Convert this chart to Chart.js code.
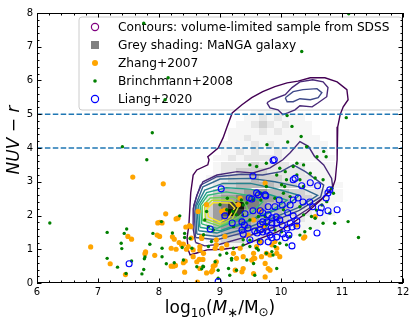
<!DOCTYPE html>
<html><head><meta charset="utf-8">
<script src="https://cdn.jsdelivr.net/npm/chart.js@4/dist/chart.umd.min.js"></script>
<style>html,body{margin:0;padding:0;background:#fff;}#wrap{width:416px;height:325px;position:relative;}</style>
</head><body><div id="wrap"><canvas id="c" width="416" height="325"></canvas></div>
<script>
// ---------- data ----------
const xTicks = [6,7,8,9,10,11,12];
const yTicks = [0,1,2,3,4,5,6,7,8];
const refLines = [4,5];
const legendLabels = ['Contours: volume-limited sample from SDSS','Grey shading: MaNGA galaxy','Zhang+2007','Brinchmann+2008','Liang+2020'];

const zhang = [[7.57,3.14],[8.07,2.94],[8.11,2.05],[7.98,1.78],[8.01,1.80],[8.05,1.78],[8.28,1.90],[8.31,1.92],[8.44,1.66],[8.50,1.70],[7.97,1.42],[8.01,1.38],[8.22,1.37],[8.25,1.30],[8.33,1.20],[8.40,1.15],[8.45,1.00],[8.20,1.03],[8.28,1.00],[7.49,1.38],[7.55,1.30],[6.88,1.07],[7.20,0.57],[7.78,0.92],[7.77,0.87],[7.93,0.82],[7.45,0.25],[8.40,0.60],[8.20,0.50],[8.24,0.50],[8.27,0.52],[8.42,0.32],[8.56,0.98],[8.56,0.78],[8.63,0.03],[8.66,0.70],[8.72,0.70],[8.78,0.30],
[8.37,1.13],[8.43,0.65],[8.62,0.63],[8.73,0.88],[8.67,0.43],[8.86,0.33],[8.92,0.53],[8.94,0.63],[8.94,1.13],[9.03,1.03],[8.70,1.32],[8.48,1.08],
[8.52,1.67],[8.53,1.33],[8.67,1.08],[8.92,1.03],[8.94,1.28],[8.78,2.32],[8.64,2.12],[9.03,2.12],[9.30,2.32],[9.08,1.38],[9.11,1.13],[9.74,2.96],[9.22,0.88],[9.55,0.88],
[8.70,1.37],[8.89,0.50],[8.88,0.38],[9.25,0.38],[9.38,0.43],[9.36,0.33],[9.55,0.28],[9.74,0.18],[9.79,0.43],[9.82,0.38],[9.74,0.58],[9.55,0.73],[9.52,0.68],[9.57,0.73],[9.38,0.78],[9.27,0.73],[9.68,0.78],[9.76,0.88],[9.82,0.83],[9.85,1.13],[9.93,1.03],[9.90,1.23],[9.93,0.88],[9.98,0.78],[9.66,1.23],[9.60,1.08],[10.39,1.37],[10.37,1.33],[10.56,1.97],[10.26,1.72],[9.33,2.51],[9.66,2.16],[9.08,2.16],[9.55,1.87],[9.46,1.42],[9.71,1.67],[8.67,0.98],[9.33,1.03]];

const brinchmann = [[6.21,1.78],[7.15,1.50],[7.47,1.60],[7.43,1.47],[7.38,1.18],[7.39,1.02],[7.15,0.73],[7.32,0.47],[7.55,0.65],[7.75,0.40],[7.77,0.77],[7.76,0.72],[7.72,0.27],[7.46,0.28],[7.85,1.15],[8.05,1.03],[8.05,0.78],[8.12,0.57],[8.22,1.48],[8.25,0.60],[8.04,1.82],[8.34,1.99],[7.90,1.47],[8.42,1.47],[8.42,1.35],[8.38,1.05],[8.62,0.48],[8.70,0.42],[8.72,0.50],[7.80,3.65],[7.75,7.70],[8.15,6.08],[8.10,5.43],[7.89,4.45],[7.40,4.04],[11.11,7.98],[10.34,6.86],[11.07,4.90],[10.10,4.96],[10.18,4.64],[10.33,4.34],[10.11,4.18],[9.77,4.10],[10.42,4.04],[10.70,3.90],[10.59,3.74],[10.74,3.74],
[8.51,1.32],[8.54,1.03],[8.81,1.08],[8.40,0.68],[8.97,0.38],
[9.49,3.50],[9.60,3.45],[9.76,3.55],[9.98,3.40],[10.07,3.30],[10.20,3.45],[10.26,3.20],[10.37,3.50],[10.48,3.25],[10.56,3.11],[10.69,3.06],[10.83,2.81],[10.86,2.66],[10.75,2.41],[10.67,2.31],[10.58,2.16],[10.50,1.97],[10.37,2.02],[10.31,2.26],[10.15,2.56],[10.04,2.66],[9.90,2.51],[10.01,2.91],[9.76,2.86],[9.66,2.66],[9.55,2.46],[9.38,2.31],[9.27,2.02],[9.49,1.87],[9.63,1.97],[9.76,1.72],[9.90,1.57],[10.01,1.52],[10.15,1.37],[10.31,1.42],[10.39,1.52],[10.48,1.62],[10.56,1.92],[10.69,1.77],[10.80,2.07],[11.10,1.82],[11.27,1.35],[10.88,1.77],[9.22,1.03],[9.38,1.13],[9.49,1.08],[9.63,0.98],[9.76,0.88],[9.85,0.93],[9.98,1.18],[9.00,0.83],[9.11,0.88],[9.19,0.68],[9.44,0.68],[9.55,0.58],[9.27,0.38],[9.16,0.23],[8.97,0.14],[8.73,0.48],[8.92,0.63],[9.90,1.08],[10.31,3.06],[10.37,2.86],[10.09,3.06],[9.93,3.20],
[10.26,3.55],[10.06,2.86],[9.67,2.46],[9.44,2.37],[9.35,2.46],[9.12,2.51],[9.21,2.12],[8.75,1.87],[8.81,1.67],[8.89,1.57],[8.73,1.43],[8.86,1.23],[9.38,1.28],[9.60,1.57],[9.74,1.97],[10.04,2.17],[8.78,2.12],[9.11,2.17],[9.00,2.32],[9.22,1.67],
[9.49,1.27],[9.63,1.27],[9.60,1.03],[9.19,0.73],[9.14,0.43],[9.87,0.83],[9.93,0.43],[9.57,0.23],[10.09,1.13]];

const liang = [[9.89,3.65],[9.54,3.17],[10.20,3.06],[10.34,2.88],[10.48,2.97],[10.60,2.88],[9.02,2.79],[10.80,2.76],[10.77,2.67],[10.74,2.52],[9.48,2.52],[9.52,2.49],[9.60,2.67],[9.75,2.58],[10.28,2.52],[10.36,2.40],[10.47,2.40],[10.15,2.31],[10.02,2.31],[9.90,2.26],[9.79,2.26],[10.52,2.26],[10.66,2.23],[10.77,2.14],[10.92,2.17],[10.64,2.08],[9.54,2.14],[9.66,2.14],[9.20,1.78],[9.08,1.99],[9.41,2.05],[9.36,1.81],[9.40,1.72],[9.70,2.08],[9.79,2.02],[9.85,1.93],[9.92,1.96],[9.98,1.87],[9.93,1.78],[9.85,1.78],[9.77,1.81],[9.70,1.81],[9.66,1.75],[10.11,2.08],[10.20,1.99],[10.26,1.84],[10.15,1.78],[10.02,1.72],[10.10,1.63],[10.18,1.66],[9.46,1.63],[9.57,1.54],[9.66,1.57],[9.77,1.54],[9.84,1.63],[8.84,1.60],[9.36,1.57],[9.38,1.45],[10.59,1.48],[10.18,1.10],[7.51,0.57],[8.97,0.04],
[9.61,1.48],[9.70,1.51],[9.82,1.42],[9.93,1.36],[10.07,1.34],[10.13,1.42],[10.03,1.45],[10.26,1.69],[9.49,1.28],[9.66,1.22],[9.79,1.22],[9.85,1.34],
[9.87,3.63],[10.23,3.10],[9.63,2.61],[9.74,2.61],[9.97,2.46],[10.20,2.46]];

// contour levels (outer -> inner)
const contour1 = [[8.48,0.98],[8.46,1.33],[8.49,1.72],[8.52,2.67],[8.56,3.20],[8.62,3.35],[8.80,3.50],[8.82,3.65],[8.80,3.74],[8.97,4.00],[9.05,4.30],[9.11,4.60],[9.20,5.04],[9.36,5.28],[9.52,5.49],[9.70,5.67],[9.90,5.82],[10.10,5.93],[10.28,5.98],[10.48,6.08],[10.72,6.08],[10.92,5.96],[11.08,5.73],[11.10,5.43],[11.02,5.22],[10.97,4.99],[10.93,4.63],[10.92,4.24],[10.92,3.86],[10.92,3.65],[10.89,3.06],[10.85,2.85],[10.69,2.52],[10.42,2.08],[10.15,1.72],[9.93,1.51],[9.60,1.28],[9.33,1.07],[9.05,1.00],[8.79,0.98],[8.62,0.89],[8.51,0.83],[8.48,0.98]];
const contour2 = [[8.60,1.20],[8.56,1.60],[8.56,2.20],[8.62,2.60],[8.72,3.00],[8.95,3.20],[9.28,3.30],[9.54,3.26],[9.82,3.41],[10.03,3.65],[10.15,3.86],[10.31,4.19],[10.45,4.05],[10.55,3.75],[10.70,3.50],[10.83,3.10],[10.85,2.80],[10.70,2.55],[10.45,2.20],[10.15,1.85],[9.80,1.60],[9.40,1.35],[9.00,1.15],[8.75,1.10],[8.60,1.20]];
const contour2b = [[9.77,5.34],[9.85,5.43],[10.07,5.58],[10.18,5.79],[10.31,5.96],[10.52,6.02],[10.69,5.96],[10.77,5.79],[10.75,5.52],[10.61,5.34],[10.51,5.22],[10.31,5.25],[10.23,5.13],[10.11,5.04],[10.03,4.99],[9.95,5.13],[9.82,5.19],[9.77,5.34]];
const contour3 = [[8.60,1.35],[8.57,2.30],[8.68,2.90],[8.95,3.15],[9.35,3.22],[9.70,3.20],[10.00,3.30],[10.20,3.50],[10.40,3.30],[10.70,2.90],[10.65,2.55],[10.30,2.15],[9.90,1.85],[9.40,1.50],[8.95,1.28],[8.60,1.35]];
const contour3b = [[10.07,5.49],[10.20,5.67],[10.36,5.73],[10.59,5.76],[10.67,5.64],[10.61,5.49],[10.48,5.43],[10.31,5.46],[10.20,5.37],[10.10,5.37],[10.07,5.49]];
const contour4 = [[8.62,1.45],[8.60,2.30],[8.72,2.85],[9.00,3.08],[9.50,3.10],[9.90,3.00],[10.30,2.85],[10.60,2.60],[10.30,2.25],[9.90,1.95],[9.40,1.60],[8.95,1.38],[8.62,1.45]];
const contour5 = [[8.65,1.55],[8.62,2.30],[8.75,2.75],[9.05,2.95],[9.50,2.95],[9.90,2.80],[10.30,2.60],[10.10,2.30],[9.70,2.00],[9.30,1.70],[8.95,1.48],[8.65,1.55]];
const contour6 = [[8.67,1.65],[8.65,2.30],[8.78,2.68],[9.10,2.82],[9.50,2.78],[9.85,2.60],[10.10,2.45],[9.80,2.10],[9.40,1.80],[9.00,1.55],[8.67,1.65]];
const contour7 = [[8.70,1.75],[8.68,2.30],[8.80,2.60],[9.10,2.70],[9.45,2.60],[9.70,2.40],[9.50,2.05],[9.20,1.80],[8.95,1.62],[8.70,1.75]];
const contour8 = [[8.72,1.85],[8.71,2.28],[8.84,2.52],[9.20,2.55],[9.40,2.40],[9.45,2.20],[9.30,1.95],[9.00,1.68],[8.72,1.85]];
const contour9 = [[8.76,1.90],[8.75,2.25],[8.87,2.45],[9.20,2.45],[9.30,2.25],[9.20,1.90],[9.00,1.74],[8.76,1.90]];
const contour10 = [[8.81,1.96],[8.79,2.20],[8.89,2.38],[9.16,2.37],[9.24,2.22],[9.15,1.95],[9.00,1.81],[8.81,1.96]];

// grey shading (MaNGA density), rows top->bottom, one digit per column (0 = empty)
const shadeCols = [8.70,8.825,8.95,9.075,9.20,9.325,9.45,9.575,9.70,9.825,9.95,10.075,10.20,10.325,10.45,10.575,10.70,10.825,10.95];
const shadeRowY = [5.1,4.9,4.7,4.5,4.3,4.1,3.9,3.7,3.5,3.3,3.1,2.9,2.7,2.5,2.3,2.1,1.9,1.7,1.5,1.3,1.1];
const shadeRows = [
"0000000111110000000",
"0000001121211100000",
"0000011232121110000",
"0000111121211110000",
"0000112111111111000",
"0001111212111111100",
"0001121211211111100",
"0011212222211111110",
"0012222322221211110",
"0012233332222211110",
"0122333433322221110",
"0123344444333222111",
"0134445554443322211",
"0245566655443332211",
"1356896654443321110",
"1357985543433221110",
"1356665544432211100",
"1245555443321111000",
"0234444332211100000",
"0123332221110000000",
"0011111100000000000"];

// ---------- helpers ----------
const pts = a => a.map(p => ({x:p[0], y:p[1]}));
const contourColors = ['#440154','#482878','#482878','#3e4989','#3e4989','#31688e','#26828e','#1f9e89','#35b779','#6ece58','#b5de2b','#fde725'];
const contourSets = [contour1,contour2,contour2b,contour3,contour3b,contour4,contour5,contour6,contour7,contour8,contour9,contour10];

const datasets = [
  {label:legendLabels[4], data:pts(liang), pointRadius:3, pointBorderWidth:1.1, borderColor:'#0000ff', backgroundColor:'rgba(0,0,0,0)', pointBorderColor:'#0000ff', pointBackgroundColor:'rgba(0,0,0,0)'},
  {label:legendLabels[3], data:pts(brinchmann), pointRadius:1.7, pointBorderWidth:0, backgroundColor:'#008000', pointBackgroundColor:'#008000', borderColor:'#008000'},
  {label:legendLabels[2], data:pts(zhang), pointRadius:2.6, pointBorderWidth:0, backgroundColor:'#ffa500', pointBackgroundColor:'#ffa500', borderColor:'#ffa500'},
];
refLines.forEach(v => datasets.push({label:'ref'+v, data:[{x:xTicks[0],y:v},{x:xTicks[xTicks.length-1],y:v}], showLine:true, pointRadius:0, borderColor:'#1f77b4', borderWidth:1.5, borderDash:[5.5,2.4]}));
contourSets.forEach((c,i) => datasets.push({label:'contour'+i, data:pts(c), showLine:true, pointRadius:0, borderColor:contourColors[i], borderWidth:1.4, tension:0}));

// ---------- plugins ----------
const shadePlugin = {
  id:'shade',
  beforeDatasetsDraw(chart){
    const {ctx, scales:{x,y}, chartArea:a} = chart;
    const dx = shadeCols[1]-shadeCols[0], dy = shadeRowY[0]-shadeRowY[1];
    ctx.save();
    ctx.beginPath(); ctx.rect(a.left,a.top,a.width,a.height); ctx.clip();
    shadeRows.forEach((row,r) => {
      for (let c=0;c<row.length;c++){
        const v = +row[c]; if(!v) continue;
        const al = Math.pow(v/9,1.5)*0.92;
        const l = x.getPixelForValue(shadeCols[c]-dx/2), rr = x.getPixelForValue(shadeCols[c]+dx/2);
        const t = y.getPixelForValue(shadeRowY[r]+dy/2), b = y.getPixelForValue(shadeRowY[r]-dy/2);
        ctx.fillStyle = 'rgba(0,0,0,'+al.toFixed(3)+')';
        ctx.fillRect(Math.round(l),Math.round(t),Math.round(rr)-Math.round(l),Math.round(b)-Math.round(t));
      }
    });
    // legend frame + entries
    const L = a.left+42, T = a.top+4, R = a.right-1, B = a.top+97, rad = 3;
    ctx.beginPath();
    ctx.moveTo(L+rad,T); ctx.lineTo(R-rad,T); ctx.arcTo(R,T,R,T+rad,rad); ctx.lineTo(R,B-rad); ctx.arcTo(R,B,R-rad,B,rad);
    ctx.lineTo(L+rad,B); ctx.arcTo(L,B,L,B-rad,rad); ctx.lineTo(L,T+rad); ctx.arcTo(L,T,L+rad,T,rad); ctx.closePath();
    ctx.fillStyle='rgba(255,255,255,0.8)'; ctx.fill();
    ctx.strokeStyle='#cccccc'; ctx.lineWidth=1; ctx.stroke();
    ctx.font = '12.2px "DejaVu Sans"'; ctx.textBaseline='middle'; ctx.textAlign='left';
    const mx = L+16, tx = L+39;
    legendLabels.forEach((lab,i) => {
      const yy = T+10+i*18;
      ctx.fillStyle='#000'; ctx.fillText(lab, tx, yy+0.5);
      ctx.beginPath();
      if(i===0){ ctx.arc(mx,yy,3.6,0,Math.PI*2); ctx.strokeStyle='#800080'; ctx.lineWidth=1.2; ctx.stroke(); }
      else if(i===1){ ctx.fillStyle='#808080'; ctx.fillRect(mx-4,yy-4,8,8); }
      else if(i===2){ ctx.arc(mx,yy,3,0,Math.PI*2); ctx.fillStyle='#ffa500'; ctx.fill(); }
      else if(i===3){ ctx.arc(mx,yy,1.8,0,Math.PI*2); ctx.fillStyle='#008000'; ctx.fill(); }
      else { ctx.arc(mx,yy,3.6,0,Math.PI*2); ctx.strokeStyle='#0000ff'; ctx.lineWidth=1.2; ctx.stroke(); }
    });
    ctx.restore();
  }
};

const framePlugin = {
  id:'frame',
  afterDraw(chart){
    const {ctx, scales:{x,y}, chartArea:a} = chart;
    ctx.save();
    ctx.strokeStyle='#000'; ctx.lineWidth=1;
    ctx.strokeRect(a.left+0.5,a.top+0.5,a.width-1,a.height-1);
    ctx.beginPath();
    const minorStep = 0.2;
    for (let v=xTicks[0]; v<=xTicks[xTicks.length-1]+1e-9; v+=minorStep){
      const major = Math.abs(v-Math.round(v))<1e-6;
      const len = major?4.5:2.5, px = Math.round(x.getPixelForValue(v))+0.5;
      ctx.moveTo(px,a.bottom); ctx.lineTo(px,a.bottom-len);
      ctx.moveTo(px,a.top); ctx.lineTo(px,a.top+len);
    }
    for (let v=yTicks[0]; v<=yTicks[yTicks.length-1]+1e-9; v+=minorStep){
      const major = Math.abs(v-Math.round(v))<1e-6;
      const len = major?4.5:2.5, py = Math.round(y.getPixelForValue(v))+0.5;
      ctx.moveTo(a.left,py); ctx.lineTo(a.left+len,py);
      ctx.moveTo(a.right,py); ctx.lineTo(a.right-len,py);
    }
    ctx.stroke();
    // x title: log10(M*/Msun)
    const big = 17, small = 12;
    const parts = [
      ['log','',big,0],['10','',small,4],['(','',big,0],['M','italic ',big,0],['\u2217','',13,4],['/M','',big,0],['\u2299','',small,3],[')','',big,0]];
    let total = 0;
    parts.forEach(p => { ctx.font = p[1]+p[2]+'px "DejaVu Sans"'; p.w = ctx.measureText(p[0]).width; total += p.w; });
    let cx = (a.left+a.right)/2 - total/2; const base = a.bottom+30;
    ctx.fillStyle='#000'; ctx.textBaseline='alphabetic'; ctx.textAlign='left';
    parts.forEach(p => { ctx.font = p[1]+p[2]+'px "DejaVu Sans"'; ctx.fillText(p[0], cx, base+p[3]); cx += p.w; });
    // y title: NUV - r
    const yparts = [['NUV','italic '],[' \u2212 ',''],['r','italic ']];
    let ytot = 0;
    yparts.forEach(p => { ctx.font = p[1]+big+'px "DejaVu Sans"'; p.w = ctx.measureText(p[0]).width; ytot += p.w; });
    ctx.translate(19, 140); ctx.rotate(-Math.PI/2);
    let yx = -ytot/2;
    yparts.forEach(p => { ctx.font = p[1]+big+'px "DejaVu Sans"'; ctx.fillText(p[0], yx, 0); yx += p.w; });
    ctx.restore();
  }
};

new Chart(document.getElementById('c'), {
  type:'scatter',
  data:{datasets},
  options:{
    responsive:false, animation:false, events:[],
    layout:{padding:{top:13,right:13,left:0,bottom:0}},
    plugins:{legend:{display:false}, tooltip:{enabled:false}},
    scales:{
      x:{type:'linear', min:xTicks[0], max:xTicks[xTicks.length-1],
         afterBuildTicks(s){ s.ticks = xTicks.map(v=>({value:v})); },
         afterFit(s){ s.height = 42; },
         grid:{display:false, drawTicks:false, tickLength:0}, border:{display:false},
         ticks:{color:'#000', font:{family:'DejaVu Sans', size:10}, padding:3, maxRotation:0, callback:v=>String(v)}},
      y:{type:'linear', min:yTicks[0], max:yTicks[yTicks.length-1],
         afterBuildTicks(s){ s.ticks = yTicks.map(v=>({value:v})); },
         afterFit(s){ s.width = 37; },
         grid:{display:false, drawTicks:false, tickLength:0}, border:{display:false},
         ticks:{color:'#000', font:{family:'DejaVu Sans', size:10}, padding:4, callback:v=>String(v)}}
    }
  },
  plugins:[shadePlugin, framePlugin]
});
</script></body></html>
